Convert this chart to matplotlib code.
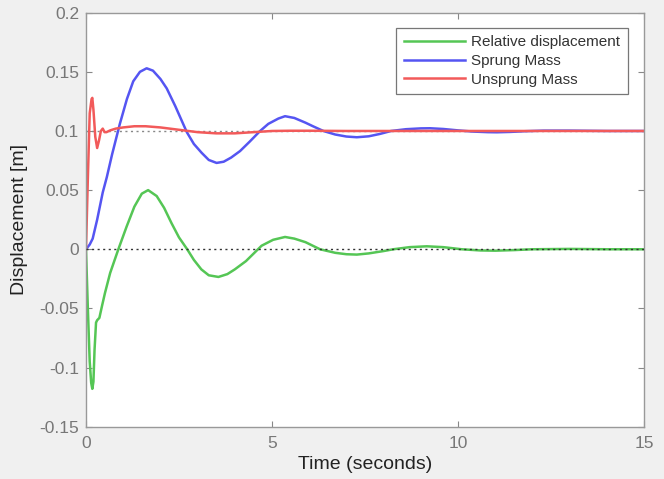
import matplotlib
matplotlib.use("Agg")
import matplotlib.pyplot as plt

plt.rcParams['font.family'] = ['Liberation Sans', 'DejaVu Sans']

# Relative displacement (green)
t_rel = [0, 0.05, 0.1, 0.14, 0.17, 0.2, 0.23, 0.27, 0.3, 0.36, 0.43, 0.51, 0.65, 0.87, 1.09,
         1.3, 1.5, 1.67, 1.9, 2.1, 2.3, 2.5, 2.72, 2.9, 3.1, 3.3, 3.56, 3.8, 4.0, 4.3, 4.72,
         5.03, 5.35, 5.6, 5.9, 6.29, 6.7, 7.0, 7.28, 7.6, 8.0, 8.26, 8.7, 9.16, 9.6, 10.1,
         10.6, 11.0, 11.5, 12.0, 13.0, 14.0, 15.0]
y_rel = [0, -0.05, -0.095, -0.113, -0.118, -0.112, -0.085, -0.062, -0.060, -0.058, -0.048,
         -0.037, -0.020, 0.0, 0.019, 0.036, 0.047, 0.050, 0.045, 0.035, 0.022, 0.010, 0.0,
         -0.009, -0.017, -0.022, -0.0234, -0.021, -0.017, -0.010, 0.003, 0.008, 0.0104,
         0.009, 0.006, 0.0, -0.003, -0.0042, -0.0045, -0.0035, -0.0015, 0.0, 0.0018, 0.0025,
         0.0018, 0.0, -0.001, -0.0012, -0.0007, 0.0, 0.0003, 0.0, 0.0]

# Sprung mass (blue)
t_spr = [0, 0.1, 0.18, 0.3, 0.45, 0.56, 0.7, 0.91, 1.1, 1.27, 1.45, 1.63, 1.8, 2.0, 2.17,
         2.4, 2.71, 2.9, 3.11, 3.3, 3.51, 3.7, 3.9, 4.14, 4.4, 4.68, 4.9, 5.17, 5.35, 5.6,
         5.9, 6.1, 6.38, 6.7, 7.0, 7.28, 7.6, 7.9, 8.2, 8.6, 9.0, 9.25, 9.6, 10.0, 10.4,
         10.8, 11.04, 11.4, 11.8, 12.3, 13.0, 14.0, 15.0]
y_spr = [0, 0.004, 0.009, 0.025, 0.048, 0.061, 0.080, 0.106, 0.127, 0.142, 0.150, 0.153,
         0.151, 0.144, 0.136, 0.121, 0.099, 0.089, 0.0815, 0.0755, 0.073, 0.074, 0.0775,
         0.083, 0.091, 0.100, 0.106, 0.1105, 0.1125, 0.111, 0.107, 0.104, 0.100, 0.097,
         0.0953, 0.0947, 0.0955, 0.0975, 0.100, 0.1015, 0.1022, 0.1023, 0.1017, 0.1005,
         0.0995, 0.099, 0.0989, 0.0992, 0.0998, 0.1003, 0.1003, 0.100, 0.100]

# Unsprung mass (red)
t_uns = [0, 0.05, 0.1, 0.15, 0.17, 0.2, 0.25, 0.3, 0.35, 0.4, 0.45, 0.5, 0.55, 0.65, 0.8,
         1.0, 1.3, 1.6, 2.0, 2.5, 3.0, 3.5, 4.0, 4.5, 5.0, 5.5, 6.0, 7.0, 8.0, 10.0, 12.0, 15.0]
y_uns = [0, 0.06, 0.115, 0.127, 0.128, 0.118, 0.095, 0.0856, 0.092, 0.100, 0.102, 0.099,
         0.099, 0.1005, 0.102, 0.103, 0.104, 0.104, 0.103, 0.101, 0.099, 0.098, 0.098,
         0.099, 0.100, 0.1002, 0.1002, 0.100, 0.100, 0.100, 0.100, 0.100]

ref_levels = [0.0, 0.1]
x_ticks = [0, 5, 10, 15]
y_ticks = [-0.15, -0.1, -0.05, 0, 0.05, 0.1, 0.15, 0.2]
y_ticklabels = ['-0.15', '-0.1', '-0.05', '0', '0.05', '0.1', '0.15', '0.2']

fig = plt.figure(figsize=(6.64, 4.79), dpi=100, facecolor='#f0f0f0')
ax = fig.add_axes([0.1295, 0.1092, 0.8405, 0.8643])
ax.set_facecolor('white')

ax.plot(t_rel, y_rel, color='#55c655', lw=1.8, label='Relative displacement')
ax.plot(t_spr, y_spr, color='#5555f2', lw=1.8, label='Sprung Mass')
ax.plot(t_uns, y_uns, color='#f25a5a', lw=1.8, label='Unsprung Mass')

ax.axhline(ref_levels[0], color='#333333', lw=1.0, ls=(0, (1.5, 2.5)), zorder=3)
ax.axhline(ref_levels[1], color='#888888', lw=1.0, ls=(0, (1.5, 2.5)), zorder=1.5)

ax.set_xlim(0, 15)
ax.set_ylim(-0.15, 0.2)
ax.set_xticks(x_ticks)
ax.set_yticks(y_ticks)
ax.set_yticklabels(y_ticklabels)
ax.tick_params(direction='in', top=True, right=True, length=4, width=0.8,
               colors='#888888', labelcolor='#777777', labelsize=12.5)
ax.tick_params(axis='x', pad=7)
ax.tick_params(axis='y', pad=5)
for s in ax.spines.values():
    s.set_color('#999999')
    s.set_linewidth(1.0)

ax.set_xlabel('Time (seconds)', fontsize=14, color='#222222', labelpad=3)
ax.set_ylabel('Displacement [m]', fontsize=14, color='#222222', labelpad=8)

leg = ax.legend(loc='upper right', fontsize=11, frameon=True, fancybox=False,
                edgecolor='#555555', handlelength=4.0, borderpad=0.5,
                labelspacing=0.3, handletextpad=0.4, bbox_to_anchor=(0.984, 0.982))
leg.get_frame().set_linewidth(0.9)
for txt in leg.get_texts():
    txt.set_color('#333333')

fig.savefig('out.png', dpi=100, facecolor=fig.get_facecolor())
